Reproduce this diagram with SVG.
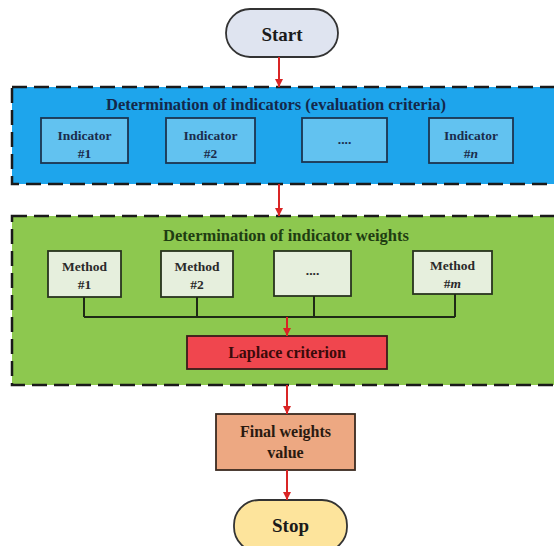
<svg xmlns="http://www.w3.org/2000/svg" width="554" height="546" viewBox="0 0 554 546">
<style>
text{font-family:"Liberation Serif","Times New Roman",serif;font-weight:bold;text-anchor:middle}
.region{stroke:#1a1a1a;stroke-width:2.5;stroke-dasharray:15 7}
.ind{fill:#62c2f0;stroke:#1c3550;stroke-width:1.8}
.indt{fill:#1b2c4c;font-size:13.5px}
.met{fill:#e6efdd;stroke:#28331e;stroke-width:1.8}
.mett{fill:#2a2a2a;font-size:13.5px}
.term{stroke:#333;stroke-width:1.8}
.flow{stroke:#d92525;stroke-width:2;fill:none;marker-end:url(#ah)}
.link{stroke:#1f2a16;stroke-width:2;fill:none}
</style>
<defs>
<marker id="ah" viewBox="0 0 10 10" refX="10" refY="5" markerWidth="4" markerHeight="4" orient="auto" markerUnits="strokeWidth">
<path d="M0,0 L10,5 L0,10 z" fill="#d92525"/>
</marker>
</defs>
<rect width="554" height="546" fill="#ffffff"/>

<g id="region-indicators">
<rect class="region" x="12" y="87" width="560" height="97" fill="#1ea5ec"/>
<text x="276" y="110" font-size="16.5" fill="#14284a">Determination of indicators (evaluation criteria)</text>
</g>
<g id="region-weights">
<rect class="region" x="12" y="216" width="560" height="169" fill="#8dc84f"/>
<text x="286" y="241" font-size="16.5" fill="#1f3d12">Determination of indicator weights</text>
</g>

<g id="start">
<rect class="term" x="226" y="9" width="112" height="48" rx="24" fill="#dfe4f0"/>
<text x="282" y="41" font-size="19" fill="#1a1a1a">Start</text>
</g>

<g id="indicator-1">
<rect class="ind" x="41" y="118" width="87" height="45"/>
<text class="indt" x="84.5" y="140">Indicator</text>
<text class="indt" x="84.5" y="158">#1</text>
</g>
<g id="indicator-2">
<rect class="ind" x="166" y="118" width="89" height="45"/>
<text class="indt" x="210.5" y="140">Indicator</text>
<text class="indt" x="210.5" y="158">#2</text>
</g>
<g id="indicator-dots">
<rect class="ind" x="302" y="118" width="85" height="44"/>
<text class="indt" x="344.5" y="144">....</text>
</g>
<g id="indicator-n">
<rect class="ind" x="429" y="118" width="84" height="45"/>
<text class="indt" x="471" y="140">Indicator</text>
<text class="indt" x="471" y="158">#<tspan font-style="italic">n</tspan></text>
</g>

<g id="method-1">
<rect class="met" x="48" y="251" width="73" height="46"/>
<text class="mett" x="84.5" y="271">Method</text>
<text class="mett" x="84.5" y="289">#1</text>
</g>
<g id="method-2">
<rect class="met" x="161" y="251" width="72" height="46"/>
<text class="mett" x="197" y="271">Method</text>
<text class="mett" x="197" y="289">#2</text>
</g>
<g id="method-dots">
<rect class="met" x="274" y="251" width="77" height="45"/>
<text class="mett" x="312.5" y="275">....</text>
</g>
<g id="method-m">
<rect class="met" x="413" y="251" width="79" height="43"/>
<text class="mett" x="452.5" y="270">Method</text>
<text class="mett" x="452.5" y="288">#<tspan font-style="italic">m</tspan></text>
</g>

<g id="laplace">
<rect x="187" y="336" width="200" height="33" fill="#f0464e" stroke="#3a1a1a" stroke-width="1.8"/>
<text x="287" y="358" font-size="16" fill="#3a0a0a">Laplace criterion</text>
</g>

<g id="final">
<rect x="216" y="414" width="139" height="56" fill="#eda882" stroke="#3a2a20" stroke-width="1.8"/>
<text x="285.5" y="437" font-size="16" fill="#2a1a10">Final weights</text>
<text x="285.5" y="458" font-size="16" fill="#2a1a10">value</text>
</g>

<g id="stop">
<rect class="term" x="234" y="500" width="113" height="52" rx="25" fill="#fde49c"/>
<text x="290.5" y="532" font-size="19" fill="#1a1a1a">Stop</text>
</g>

<g id="connectors">
<path class="flow" d="M279,57 V87"/>
<path class="flow" d="M279,184 V216"/>
<path class="link" d="M84,297 V317 M197,297 V317 M314,296 V317 M455,294 V317 M84,317 H455"/>
<path class="flow" d="M287,317 V336"/>
<path class="flow" d="M287,385 V414"/>
<path class="flow" d="M287,470 V500"/>
</g>
</svg>
